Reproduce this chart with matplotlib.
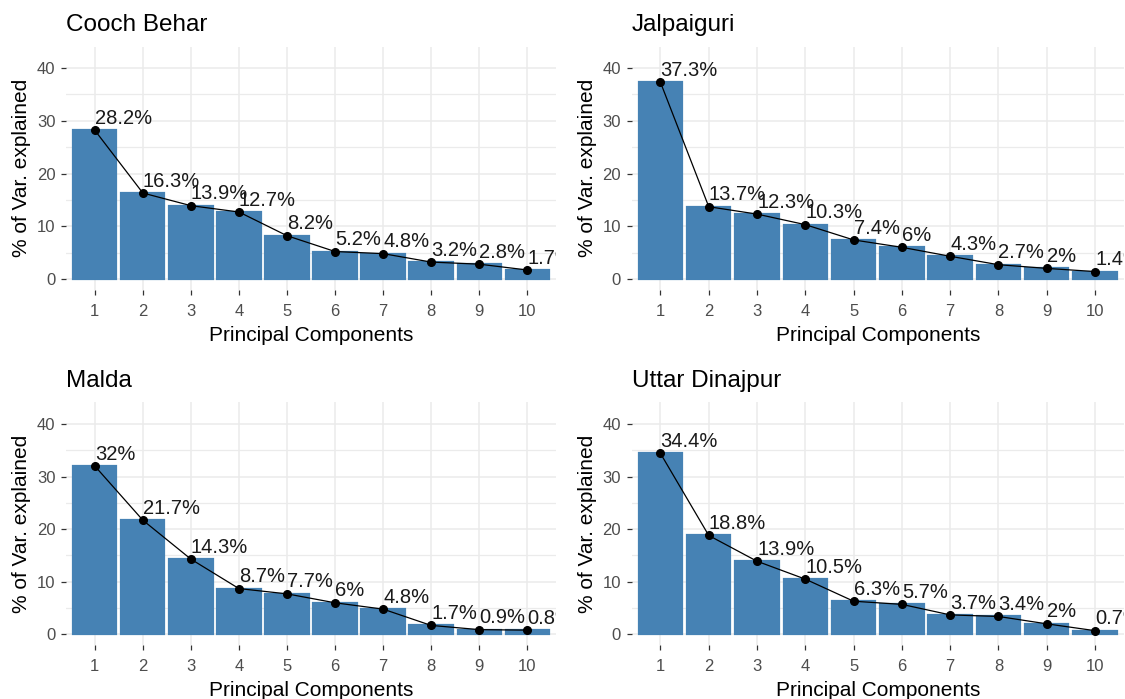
import matplotlib
matplotlib.use("Agg")
import matplotlib.pyplot as plt

plt.rcParams['font.family'] = ['Liberation Sans', 'DejaVu Sans']

# ==============================
# DATA: % of variance explained per principal component
# ==============================
pcs = [1, 2, 3, 4, 5, 6, 7, 8, 9, 10]

district_names = ["Cooch Behar", "Jalpaiguri", "Malda", "Uttar Dinajpur"]

cooch_behar = [28.2, 16.3, 13.9, 12.7, 8.2, 5.2, 4.8, 3.2, 2.8, 1.7]
jalpaiguri = [37.3, 13.7, 12.3, 10.3, 7.4, 6.0, 4.3, 2.7, 2.0, 1.4]
malda = [32.0, 21.7, 14.3, 8.7, 7.7, 6.0, 4.8, 1.7, 0.9, 0.8]
uttar_dinajpur = [34.4, 18.8, 13.9, 10.5, 6.3, 5.7, 3.7, 3.4, 2.0, 0.7]

y_major = [0, 10, 20, 30, 40]
y_minor = [5, 15, 25, 35]

BAR_COLOR = "steelblue"
GRID_COLOR = "#EBEBEB"

W, H = 1125, 699


# ==============================
# ONE SCREE PANEL
# ==============================
def scree_panel(ax, title, values):
    ax.bar(pcs, values, width=0.9, color=BAR_COLOR, edgecolor=BAR_COLOR,
           linewidth=1.6, zorder=2)
    ax.plot(pcs, values, color="black", lw=0.9, marker="o", ms=5.5, zorder=3)

    # labels sit just above each point and are cut at the panel edge
    for x, v in zip(pcs, values):
        ax.annotate(f"{v:g}%", (x, v), xytext=(0, 4.6), textcoords="offset points",
                    ha="left", va="baseline", fontsize=14.5, color="#1A1A1A",
                    clip_on=True, zorder=4)

    ax.set_xlim(0.4, 10.6)
    ax.set_ylim(-2.1, 44.1)
    ax.set_xticks(pcs)
    ax.set_yticks(y_major)
    ax.set_yticks(y_minor, minor=True)

    ax.grid(True, which="major", color=GRID_COLOR, lw=1.1, zorder=0)
    ax.grid(True, which="minor", axis="y", color=GRID_COLOR, lw=0.9, zorder=0)
    ax.set_axisbelow(True)
    for s in ax.spines.values():
        s.set_visible(False)

    ax.tick_params(which="major", length=3.5, width=0.9, color="#333333",
                   labelcolor="#4D4D4D", labelsize=12, pad=4)
    ax.tick_params(axis="x", which="major", pad=6.5)
    ax.tick_params(which="minor", length=0)

    ax.set_title(title, loc="left", fontsize=17.5, pad=11, color="black")
    ax.set_xlabel("Principal Components", fontsize=15, color="black")
    ax.set_ylabel("% of Var. explained", fontsize=15, color="black")
    ax.xaxis.set_label_coords(0.5, -0.147)
    ax.yaxis.set_label_coords(-0.071, 0.5)


# ==============================
# FIGURE
# ==============================
fig = plt.figure(figsize=(W / 100, H / 100), dpi=100)

boxes = [
    (66, 46.5, 490, 243.5),
    (631.5, 46.5, 492.5, 243.5),
    (66, 402.4, 490, 243),
    (631.5, 402.4, 492.5, 243),
]
series = [cooch_behar, jalpaiguri, malda, uttar_dinajpur]

for (x0, y0, w, h), name, vals in zip(boxes, district_names, series):
    ax = fig.add_axes([x0 / W, 1 - (y0 + h) / H, w / W, h / H])
    scree_panel(ax, name, vals)

fig.savefig("out.png", dpi=100, facecolor="white")
